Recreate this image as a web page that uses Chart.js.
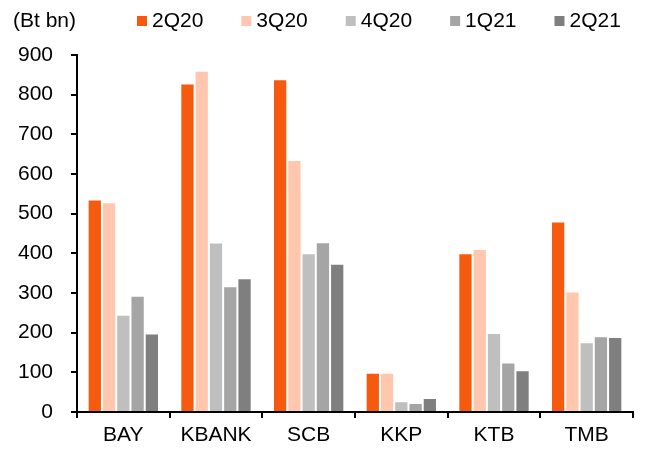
<!DOCTYPE html>
<html>
<head>
<meta charset="utf-8">
<script src="https://cdn.jsdelivr.net/npm/chart.js@4"></script>
<style>
  html, body { margin: 0; padding: 0; background: #fff; }
  #wrap { width: 648px; height: 452px; }
</style>
</head>
<body>
<div id="wrap"><canvas id="bankChart" width="648" height="452"></canvas></div>
<script>
// data (Bt bn)
const banks = ['BAY', 'KBANK', 'SCB', 'KKP', 'KTB', 'TMB'];
const quarters = ['2Q20', '3Q20', '4Q20', '1Q21', '2Q21'];
const q2_20 = [536, 828, 839, 99, 400, 480];
const q3_20 = [529, 860, 635, 99, 411, 304];
const q4_20 = [245, 427, 400, 27, 199, 176];
const q1_21 = [293, 317, 428, 23, 125, 191];
const q2_21 = [198, 337, 374, 35, 105, 189];
const yTicks = [0, 100, 200, 300, 400, 500, 600, 700, 800, 900];

const colours = ['#f55a0f', '#ffc7ae', '#bfbfbf', '#a5a5a5', '#7f7f7f'];
const FONT = "'Liberation Sans', Arial, sans-serif";

// legend drawn in one row with the unit label in front
const topLegend = {
    id: 'topLegend',
    afterDraw(chart) {
        const ctx = chart.ctx;
        ctx.save();
        ctx.font = '21px ' + FONT;
        ctx.fillStyle = '#000';
        ctx.textBaseline = 'middle';
        ctx.textAlign = 'left';
        ctx.fillText('(Bt bn)', 13, 21);
        let x = 137;
        chart.data.datasets.forEach(ds => {
            ctx.fillStyle = ds.backgroundColor;
            ctx.fillRect(x, 16, 10, 10);
            ctx.fillStyle = '#000';
            ctx.fillText(ds.label, x + 15, 21);
            x += 15 + ctx.measureText(ds.label).width + 38;
        });
        ctx.restore();
    }
};

const series = [q2_20, q3_20, q4_20, q1_21, q2_21];

const ctx = document.getElementById('bankChart').getContext('2d');
const chart = new Chart(ctx, {
    type: 'bar',
    data: {
        labels: banks,
        datasets: series.map((vals, i) => ({
            label: quarters[i],
            data: vals,
            backgroundColor: colours[i],
            borderColor: 'rgba(255,255,255,0.5)',
            borderWidth: 1,
            categoryPercentage: 0.77,
            barPercentage: 1
        }))
    },
    options: {
        responsive: false,
        animation: false,
        layout: { padding: { top: 55, right: 15, left: 0, bottom: 0 } },
        plugins: {
            legend: { display: false },
            tooltip: { enabled: false }
        },
        scales: {
            x: {
                grid: { offset: true, drawOnChartArea: false, color: '#000', lineWidth: 2, tickLength: 6 },
                border: { color: '#000', width: 2 },
                ticks: { color: '#000', font: { family: FONT, size: 21 }, padding: 5 },
                afterFit(scale) { scale.height = 40; }
            },
            y: {
                min: 0,
                max: 900,
                afterBuildTicks(scale) { scale.ticks = yTicks.map(v => ({ value: v })); },
                grid: { drawOnChartArea: false, color: '#000', lineWidth: 2, tickLength: 6 },
                border: { color: '#000', width: 2 },
                ticks: { color: '#000', font: { family: FONT, size: 21 }, padding: 18 },
                afterFit(scale) { scale.width = 77; }
            }
        }
    },
    plugins: [topLegend]
});
</script>
</body>
</html>
